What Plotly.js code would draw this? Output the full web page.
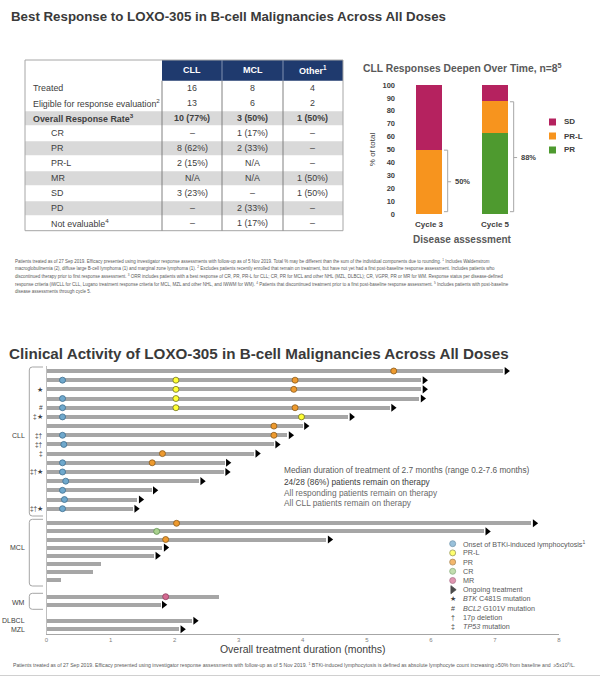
<!DOCTYPE html>
<html><head><meta charset="utf-8">
<script src="https://cdn.plot.ly/plotly-3.0.1.min.js"></script>
<style>html,body{margin:0;padding:0;background:#fff}#chart{width:600px;height:677px}</style>
</head><body><div id="chart"></div>
<script>
// ================= DATA =================
// Table: best response
const tableColumns = ["CLL", "MCL", "Other<sup>1</sup>"];
const tableRowLabels = ["Treated", "Eligible for response evaluation<sup>2</sup>", "Overall Response Rate<sup>3</sup>", "CR", "PR", "PR-L", "MR", "SD", "PD", "Not evaluable<sup>4</sup>"];
const tableCLL   = ["16", "13", "10 (77%)", "–", "8 (62%)", "2 (15%)", "N/A", "3 (23%)", "–", "–"];
const tableMCL   = ["8", "6", "3 (50%)", "1 (17%)", "2 (33%)", "N/A", "N/A", "–", "2 (33%)", "1 (17%)"];
const tableOther = ["4", "2", "1 (50%)", "–", "–", "–", "1 (50%)", "1 (50%)", "–", "–"];

// Stacked bars: CLL responses over time (% of total)
const cycles = ["Cycle 3", "Cycle 5"];
const pctPR  = [0, 62.5];
const pctPRL = [50, 25];
const pctSD  = [50, 12.5];

// Swimmer plot (months)
const patientGroup = ["CLL","CLL","CLL","CLL","CLL","CLL","CLL","CLL","CLL","CLL","CLL","CLL","CLL","CLL","CLL","CLL",
                      "MCL","MCL","MCL","MCL","MCL","MCL","MCL","MCL","WM","WM","DLBCL","MZL"];
const duration = [7.13, 5.85, 5.85, 5.82, 5.36, 4.71, 4.00, 3.76, 3.55, 3.24, 2.78, 2.77, 2.38, 1.64, 1.42, 1.35,
                  7.57, 6.83, 4.37, 1.81, 1.68, 0.85, 0.72, 0.23, 2.70, 1.78, 2.27, 2.07];
const ongoing = [1,1,1,1,1,1,1,1,1,1,1,1,1,1,1,1, 1,1,1,1,1,0,0,0, 0,1, 1,1];
const lymphOnset = [null,0.25,null,0.25,0.25,0.25,null,0.25,0.27,null,0.25,0.25,0.30,0.25,0.28,0.25,
                    null,null,null,null,null,null,null,null,null,null,null,null];
const timePRL = [null,2.02,2.02,2.02,2.02,3.98,null,null,null,null,null,null,null,null,null,null,
                 null,null,null,null,null,null,null,null,null,null,null,null];
const timePR  = [5.42,3.88,3.86,null,3.88,null,3.55,3.55,null,1.81,1.65,null,null,null,null,null,
                 2.03,null,1.86,null,null,null,null,null,null,null,null,null];
const timeCR  = [null,null,null,null,null,null,null,null,null,null,null,null,null,null,null,null,
                 null,1.72,null,null,null,null,null,null,null,null,null,null];
const timeMR  = [null,null,null,null,null,null,null,null,null,null,null,null,null,null,null,null,
                 null,null,null,null,null,null,null,null,1.86,null,null,null];
const mutationFlags = ["","","★","","#","‡★","","‡†","‡†","‡","","‡†★","","","","‡†★",
                       "","","","","","","","","","","",""];
const medianText = ["Median duration of treatment of 2.7 months (range 0.2-7.6 months)",
                    "24/28 (86%) patients remain on therapy",
                    "All responding patients remain on therapy",
                    "All CLL patients remain on therapy"];
const swimLegend = ["Onset of BTKi-induced lymphocytosis<sup>1</sup>", "PR-L", "PR", "CR", "MR", "Ongoing treatment",
                    "<i>BTK</i> C481S mutation", "<i>BCL2</i> G101V mutation", "17p deletion", "<i>TP53</i> mutation"];
const swimLegendGlyph = ["", "", "", "", "", "", "★", "#", "†", "‡"];

const topFootnote = [
 "Patients treated as of 27 Sep 2019. Efficacy presented using investigator response assessments with follow-up as of 5 Nov 2019. Total % may be different than the sum of the individual components due to rounding. <sup>1</sup> Includes Waldenstrom",
 "macroglobulinemia (2), diffuse large B-cell lymphoma (1) and marginal zone lymphoma (1). <sup>2</sup> Excludes patients recently enrolled that remain on treatment, but have not yet had a first post-baseline response assessment. Includes patients who",
 "discontinued therapy prior to first response assessment. <sup>3</sup> ORR includes patients with a best response of CR, PR, PR-L for CLL; CR, PR for MCL and other NHL (MZL, DLBCL); CR, VGPR, PR or MR for WM. Response status per disease-defined",
 "response criteria (iWCLL for CLL, Lugano treatment response criteria for MCL, MZL and other NHL, and IWWM for WM). <sup>4</sup> Patients that discontinued treatment prior to a first post-baseline response assessment. <sup>5</sup> Includes patients with post-baseline",
 "disease assessments through cycle 5."];
const bottomFootnote = "Patients treated as of 27 Sep 2019. Efficacy presented using investigator response assessments with follow-up as of 5 Nov 2019. <sup>1</sup> BTKi-induced lymphocytosis is defined as absolute lymphocyte count increasing ≥50% from baseline and  ≥5x10<sup>9</sup>/L.";

// ================= LAYOUT HELPERS =================
const W = 600, H = 677;
const px = x => x / W;
const py = y => 1 - y / H;
const FONT = "Liberation Sans, Arial, sans-serif";
const C = {SD:"#B5225F", PRL:"#F7941E", PR:"#4E9A2F", navy:"#1F3A6E", grey:"#D9D9D9",
           onset:"#6FA8CC", yellow:"#FFFF33", orange:"#EE9A2E", cr:"#A9D18E", mr:"#D46A91", bar:"#A6A6A6"};

// swimmer row geometry (pixel positions along y3, which is a pixel-like axis)
const groupGeom = {CLL:{top:371, step:9.18}, MCL:{top:523.3, step:8.1}, WM:{top:596.7, step:8},
                   DLBCL:{top:620.7, step:8}, MZL:{top:629.2, step:8}};
const groupBracket = {CLL:[367,516], MCL:[519.3,586], WM:[593.3,609.3]};
const rowY = []; const cnt = {};
patientGroup.forEach(g => { cnt[g] = (cnt[g]||0); rowY.push(groupGeom[g].top + cnt[g]*groupGeom[g].step); cnt[g]++; });
const PXM = 64.1; // pixels per month
const arrowOff = 3.2 / PXM;

const traces = [];
const shapes = [];
const annotations = [];
const ann = (o) => annotations.push(Object.assign({showarrow:false, xref:"paper", yref:"paper", xanchor:"center", yanchor:"middle"}, o));
const annY = (o) => annotations.push(Object.assign({showarrow:false, xref:"paper", yref:"y3", xanchor:"center", yanchor:"middle"}, o));
const rect = (x0, y0, x1, y1, fill, line) => shapes.push({type:"rect", xref:"paper", yref:"paper", layer:"below",
  x0:px(x0), x1:px(x1), y0:py(y1), y1:py(y0), fillcolor:fill, line:line || {width:0}});

// ---------- Table (drawn as cells) ----------
const T = {left:25, right:343, top:60, headBottom:80.7, rowH:15, colX:[162, 222, 283, 343], labelX:31, indentX:49};
const colCenters = T.colX.slice(0, 3).map((x, i) => (x + T.colX[i+1]) / 2);
rect(T.colX[0], T.top, T.right, T.headBottom, C.navy);
tableColumns.forEach((c, j) => ann({x:px(colCenters[j]), y:py((T.top + T.headBottom) / 2), text:"<b>"+c+"</b>",
   font:{family:FONT, size:9, color:"#FFFFFF"}}));
const cols = [tableCLL, tableMCL, tableOther];
tableRowLabels.forEach((lab, i) => {
  const y0 = T.headBottom + i * T.rowH, yc = y0 + T.rowH / 2;
  if (i >= 2 && i % 2 === 0) rect(T.left, y0 + 0.5, T.right, y0 + T.rowH - 0.5, C.grey);
  const b = s => i === 2 ? "<b>"+s+"</b>" : s;
  ann({x:px(i >= 3 ? T.indentX : T.labelX), y:py(yc), xanchor:"left", text:b(lab), font:{family:FONT, size:8.9, color:"#404040"}});
  cols.forEach((col, j) => ann({x:px(colCenters[j]), y:py(yc), text:b(col[i]), font:{family:FONT, size:8.9, color:"#404040"}}));
});
const tableBottom = T.headBottom + tableRowLabels.length * T.rowH;
rect(T.left, T.top, T.right, tableBottom, "rgba(0,0,0,0)", {color:"#A6A6A6", width:1});
T.colX.slice(0, 3).forEach(x => shapes.push({type:"line", xref:"paper", yref:"paper", layer:"below", x0:px(x), x1:px(x),
   y0:py(tableBottom), y1:py(T.headBottom), line:{color:"#808080", width:1}}));
T.colX.slice(1, 3).forEach(x => shapes.push({type:"line", xref:"paper", yref:"paper", layer:"below", x0:px(x), x1:px(x),
   y0:py(T.headBottom), y1:py(T.top), line:{color:"#8090B0", width:1}}));

// ---------- Stacked bars ----------
const xi = cycles.map((_,i) => i);
[["PR", pctPR, C.PR], ["PR-L", pctPRL, C.PRL], ["SD", pctSD, C.SD]].forEach(([n, v, col]) => {
  traces.push({type:"bar", name:n, x:xi, y:v, xaxis:"x2", yaxis:"y2", width:0.394,
               marker:{color:col, line:{width:0}}, hoverinfo:"skip"});
});
// response brackets
cycles.forEach((c, i) => {
  const tot = pctPR[i] + pctPRL[i];
  const xv = i + 0.283, xl = i + 0.227, xr = i + 0.335;
  const yt = tot - 0.5, yb = 1.8, ym = tot / 2;
  shapes.push({type:"path", xref:"x2", yref:"y2",
    path:`M ${xl} ${yt} L ${xv} ${yt} L ${xv} ${yb} L ${xl} ${yb} M ${xv} ${ym} L ${xr} ${ym}`,
    line:{color:"#A6A6A6", width:1}});
  annotations.push({showarrow:false, xref:"x2", yref:"y2", x:i + 0.36, y:ym, xanchor:"left", yanchor:"middle",
    text:"<b>"+Math.round(tot)+"%</b>", font:{family:FONT, size:7.5, color:"#404040"}});
});
ann({x:px(463), y:py(67), text:"<b>CLL Responses Deepen Over Time, n=8<sup>5</sup></b>",
     font:{family:FONT, size:10.3, color:"#595959"}});
// manual legend
[["SD", C.SD, 122], ["PR-L", C.PRL, 136], ["PR", C.PR, 150]].forEach(([n, col, y]) => {
  rect(549, y - 3.5, 556, y + 3.5, col);
  ann({x:px(562), y:py(y), xanchor:"left", text:"<b>"+n+"</b>", font:{family:FONT, size:8, color:"#404040"}});
});

// ---------- Swimmer plot ----------
traces.push({type:"bar", orientation:"h", x:duration, y:rowY, base:0, width:4,
             xaxis:"x3", yaxis:"y3", marker:{color:C.bar, line:{width:0}}, hoverinfo:"skip"});
const arrX = [], arrY = [];
duration.forEach((d,i) => { if (ongoing[i]) { arrX.push(d + arrowOff); arrY.push(rowY[i]); } });
traces.push({type:"scatter", mode:"markers", x:arrX, y:arrY, xaxis:"x3", yaxis:"y3",
             marker:{symbol:"triangle-right", size:7, color:"#000000"}, hoverinfo:"skip", cliponaxis:false});
const dot = (vals, fill, edge) => traces.push({type:"scatter", mode:"markers", x:vals, y:rowY, xaxis:"x3", yaxis:"y3",
             marker:{symbol:"circle", size:6, color:fill, line:{color:edge, width:0.8}}, hoverinfo:"skip", cliponaxis:false});
dot(lymphOnset, C.onset, "#3F6F8F");
dot(timePRL, C.yellow, "#707020");
dot(timePR, C.orange, "#8A5A1A");
dot(timeCR, C.cr, "#5F8F4F");
dot(timeMR, C.mr, "#8F3F5F");

// mutation flags
mutationFlags.forEach((f,i) => { if (f) annY({x:px(45), y:rowY[i], xanchor:"right", text:f,
   font:{family:FONT, size:6.5, color:"#404040"}}); });

// group labels and brackets
const groupsSeen = [...new Set(patientGroup)];
groupsSeen.forEach(g => {
  const ys = rowY.filter((_,i) => patientGroup[i] === g);
  let yc = (ys[0] + ys[ys.length-1]) / 2;
  if (groupBracket[g] && ys.length > 2) yc -= 4;
  if (ys.length === 2) yc += 1.5;
  annY({x:px(27), y:yc, xanchor:"right", text:g, font:{family:FONT, size:7, color:"#404040"}});
  if (groupBracket[g]) {
    const [t, b] = groupBracket[g];
    const xL = 29.3, xR = 43, r = 3;
    shapes.push({type:"path", xref:"paper", yref:"paper",
      path:`M ${px(xR)} ${py(t)} L ${px(xL+r)} ${py(t)} Q ${px(xL)} ${py(t)} ${px(xL)} ${py(t+r)} L ${px(xL)} ${py(b-r)} Q ${px(xL)} ${py(b)} ${px(xL+r)} ${py(b)} L ${px(xR)} ${py(b)}`,
      line:{color:"#A6A6A6", width:1}});
  }
});

// swimmer legend
const legY0 = 543.7, legStep = 9.2, legMarkX = 6.34;
const legMarkers = [["circle", C.onset, "#3F6F8F"], ["circle", C.yellow, "#707020"], ["circle", C.orange, "#8A5A1A"],
                    ["circle", C.cr, "#5F8F4F"], ["circle", C.mr, "#8F3F5F"], ["triangle-right", "#000000", "#000000"]];
traces.push({type:"scatter", mode:"markers", xaxis:"x3", yaxis:"y3", hoverinfo:"skip", cliponaxis:false,
  x:legMarkers.map(() => legMarkX), y:legMarkers.map((_,i) => legY0 + i*legStep),
  marker:{symbol:legMarkers.map(m => m[0]), size:legMarkers.map(m => m[0]==="circle"?6:7),
          color:legMarkers.map(m => m[1]), line:{color:legMarkers.map(m => m[2]), width:0.8}}});
swimLegend.forEach((t,i) => {
  const y = legY0 + i*legStep;
  annY({x:px(461), y:y, xanchor:"left", text:t, font:{family:FONT, size:7.2, color:"#595959"}});
  if (swimLegendGlyph[i]) annY({x:px(453), y:y, text:swimLegendGlyph[i], font:{family:FONT, size:7, color:"#404040"}});
});

// median text block
const medColors = ["#595959", "#404040", "#6A6A6A", "#6A6A6A"];
const medY = [470, 481.5, 492.5, 503.3];
medianText.forEach((t,i) => ann({x:px(282), y:py(medY[i]), xanchor:"left", text:t,
   font:{family:FONT, size:8.3, color:medColors[i]}}));

// titles
ann({x:px(9), y:py(17), xanchor:"left", text:"<b>Best Response to LOXO-305 in B-cell Malignancies Across All Doses</b>",
     font:{family:FONT, size:13.3, color:"#3A3A3A"}});
ann({x:px(7), y:py(353), xanchor:"left", text:"<b>Clinical Activity of LOXO-305 in B-cell Malignancies Across All Doses</b>",
     font:{family:FONT, size:15.2, color:"#3A3A3A"}});

// footnotes
topFootnote.forEach((t,i) => ann({x:px(12.5), y:py(260.7 + i*7.6), xanchor:"left", text:t,
     font:{family:FONT, size:4.5, color:"#595959"}}));
ann({x:px(10.5), y:py(665), xanchor:"left", text:bottomFootnote, font:{family:FONT, size:5.15, color:"#595959"}});
shapes.push({type:"line", xref:"paper", yref:"paper", x0:0, x1:1, y0:py(675.5), y1:py(675.5), line:{color:"#D0D0D0", width:1}});

const layout = {
  width:W, height:H, margin:{l:0, r:0, t:0, b:0}, paper_bgcolor:"#FFFFFF", plot_bgcolor:"rgba(0,0,0,0)",
  showlegend:false, barmode:"stack", font:{family:FONT, color:"#404040"},
  xaxis2:{domain:[px(396), px(528)], range:[-0.5, 1.5], anchor:"y2", tickvals:xi, ticktext:cycles,
          tickfont:{family:FONT, size:8, color:"#404040", weight:"bold"}, ticklabelstandoff:4,
          showline:false, showgrid:false, zeroline:false, ticks:"",
          title:{text:"<b>Disease assessment</b>", font:{family:FONT, size:10, color:"#595959"}, standoff:7}, fixedrange:true},
  yaxis2:{domain:[py(214), py(85)], range:[0, 100], anchor:"x2", dtick:10, tickfont:{family:FONT, size:7.5, color:"#404040", weight:"bold"},
          showline:false, showgrid:false, zeroline:false, ticks:"",
          title:{text:"% of total", font:{family:FONT, size:8, color:"#404040"}, standoff:5}, fixedrange:true},
  xaxis3:{domain:[px(46.5), px(559)], range:[0, 8], anchor:"y3", dtick:1, tickfont:{family:FONT, size:6, color:"#808080"},
          showline:true, linecolor:"#A6A6A6", linewidth:1, showgrid:false, zeroline:false, ticks:"",
          title:{text:"Overall treatment duration (months)", font:{family:FONT, size:10.5, color:"#404040"}, standoff:2}, fixedrange:true},
  yaxis3:{domain:[py(634), py(366)], range:[634, 366], anchor:"x3", showline:true, linecolor:"#BFBFBF", linewidth:1,
          showticklabels:false, showgrid:false, zeroline:false, ticks:"", fixedrange:true},
  shapes:shapes, annotations:annotations
};
Plotly.newPlot("chart", traces, layout, {staticPlot:true, displayModeBar:false});
</script></body></html>
